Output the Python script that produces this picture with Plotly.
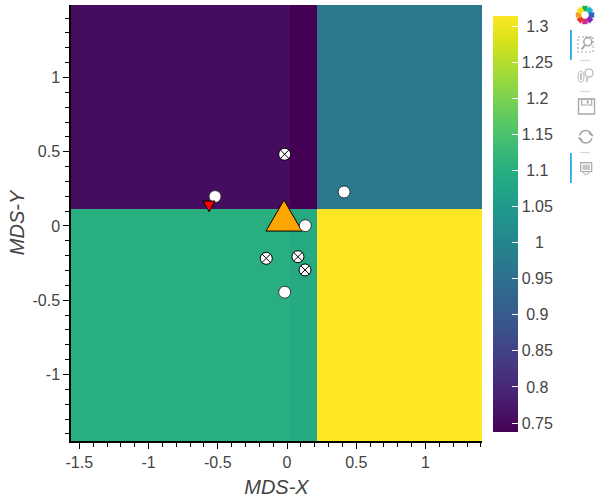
import math
import plotly.graph_objects as go

# ---- data ----
x_edges = [-1.56, 0.02, 0.217, 1.408]
y_edges = [-1.448, 0.115, 1.488]
z_values = [[1.10, 1.09, 1.32],
            [0.755, 0.738, 0.97]]
cross_x = [-0.017, -0.15, 0.079, 0.13]
cross_y = [0.483, -0.218, -0.207, -0.296]
circle_x = [-0.52, 0.412, 0.132, -0.017]
circle_y = [0.198, 0.229, 0.002, -0.446]
down_x = -0.563
down_y = 0.132
big_x = -0.022
big_y = 0.07
x_ticks = [-1.5, -1, -0.5, 0, 0.5, 1]
x_labels = ["-1.5", "-1", "-0.5", "0", "0.5", "1"]
y_ticks = [-1, -0.5, 0, 0.5, 1]
y_labels = ["-1", "-0.5", "0", "0.5", "1"]
cb_ticks = [0.75, 0.8, 0.85, 0.9, 0.95, 1, 1.05, 1.1, 1.15, 1.2, 1.25, 1.3]
cb_labels = ["0.75", "\u00a00.8", "0.85", "\u00a00.9", "0.95", "\u00a0\u00a0\u00a01",
             "1.05", "\u00a01.1", "1.15", "\u00a01.2", "1.25", "\u00a01.3"]
viridis = ["#440154", "#481567", "#482677", "#453781", "#404788", "#39568C", "#33638D",
           "#2D708E", "#287D8E", "#238A8D", "#1F968B", "#20A387", "#29AF7F", "#3CBB75",
           "#55C667", "#73D055", "#95D840", "#B8DE29", "#DCE319", "#FDE725"]

W, H = 600, 500
L, R, T, B = 71, 118, 5, 59
PW, PH = W - L - R, H - T - B
xrange_ = [-1.56, 1.408]
yrange_ = [-1.448, 1.488]


def px(x):
    return (x - L) / PW


def py(y):
    return 1 - (y - T) / PH


TEXT = "#444444"
FONT = "Liberation Sans, Arial, Helvetica, sans-serif"
GREY = "#a8a8a8"
PALE = "#c4c4c4"

# marker sizes in pixels, converted through the axis scale
ux = (xrange_[1] - xrange_[0]) / PW
uy = (yrange_[1] - yrange_[0]) / PH
dx, dy = 18 * ux, 15.5 * uy
sx, sy = 6 * ux, 5.3 * uy

fig = go.Figure()
fig.add_trace(go.Heatmap(
    x=x_edges, y=y_edges, z=z_values, zmin=0.7376, zmax=1.314,
    colorscale=[[i / (len(viridis) - 1), c] for i, c in enumerate(viridis)], hoverinfo="skip",
    colorbar=dict(
        thicknessmode="pixels", thickness=25, lenmode="pixels", len=416,
        x=px(493), xanchor="left", y=py(432), yanchor="bottom",
        tickmode="array", tickvals=cb_ticks, ticktext=cb_labels,
        ticks="inside", ticklen=6, tickcolor="white", tickwidth=1,
        outlinewidth=0, borderwidth=0, xpad=0, ypad=0,
        tickfont=dict(size=16, color=TEXT, family=FONT),
    ),
))
fig.add_trace(go.Scatter(
    x=[big_x - dx, big_x + dx, big_x, big_x - dx],
    y=[big_y - dy, big_y - dy, big_y + dy, big_y - dy],
    mode="lines", fill="toself", fillcolor="#FFA500",
    line=dict(color="black", width=1), hoverinfo="skip",
))
fig.add_trace(go.Scatter(
    x=circle_x, y=circle_y, mode="markers",
    marker=dict(symbol="circle", size=12, color="white", line=dict(color="#333333", width=1)),
))
fig.add_trace(go.Scatter(
    x=cross_x, y=cross_y, mode="markers",
    marker=dict(symbol="circle-x", size=12, color="white", line=dict(color="black", width=1)),
))
fig.add_trace(go.Scatter(
    x=[down_x - sx, down_x + sx, down_x, down_x - sx],
    y=[down_y + sy, down_y + sy, down_y - sy, down_y + sy],
    mode="lines", fill="toself", fillcolor="#FF0000",
    line=dict(color="black", width=1), hoverinfo="skip",
))

shapes = []


def seg(x0, y0, x1, y1, color=GREY, width=1.2, dash=None):
    line = dict(color=color, width=width)
    if dash:
        line["dash"] = dash
    shapes.append(dict(type="line", xref="paper", yref="paper", x0=px(x0), y0=py(y0),
                       x1=px(x1), y1=py(y1), line=line, layer="above"))


def rect(x0, y0, x1, y1, color=GREY, width=1.2, fill=None, dash=None):
    line = dict(color=color, width=width)
    if dash:
        line["dash"] = dash
    shapes.append(dict(type="rect", xref="paper", yref="paper", x0=px(x0), y0=py(y0),
                       x1=px(x1), y1=py(y1), line=line, fillcolor=fill, layer="above"))


def oval(x0, y0, x1, y1, color=GREY, width=1.2, fill=None):
    shapes.append(dict(type="circle", xref="paper", yref="paper", x0=px(x0), y0=py(y0),
                       x1=px(x1), y1=py(y1), line=dict(color=color, width=width),
                       fillcolor=fill, layer="above"))


# logo ring
logo = ["#1DB24B", "#1FB6C9", "#2D62C8", "#7A2DB8", "#D12A9A", "#E8392C", "#F59B1E", "#F7E01B"]
for i, c in enumerate(logo):
    a0 = math.radians(-112.5 + i * 45)
    a1 = math.radians(-67.5 + i * 45)
    seg(585 + 7 * math.cos(a0), 15 + 7 * math.sin(a0),
        585 + 7 * math.cos(a1), 15 + 7 * math.sin(a1), color=c, width=5.5)

# active tool bars
rect(570, 30, 571.8, 60, color="#26AAE1", width=0, fill="#26AAE1")
rect(570, 153, 571.8, 183, color="#26AAE1", width=0, fill="#26AAE1")
# box zoom
rect(578, 37, 593, 52, dash="2px,2px")
rect(584, 37.8, 593.6, 47, color="white", width=0, fill="white")
seg(585, 37, 593, 37, dash="2px,2px")
seg(593, 37, 593, 46, dash="2px,2px")
oval(583.8, 37.8, 591.8, 45.8, width=1.6, fill="white")
seg(585, 45, 581.5, 49.5, width=2)
seg(580, 60.5, 590, 60.5, color="#d8d8d8")
# wheel zoom
oval(578, 71, 584, 82, color=PALE)
seg(581, 73, 581, 80, color=PALE, width=2)
oval(585, 69, 593, 77, color=PALE, width=1.6, fill="white")
seg(587.5, 77, 586.5, 82, color=PALE, width=1.8)
seg(580, 91.5, 590, 91.5, color="#d8d8d8")
# save
rect(578.5, 99, 594.5, 114, width=1.4)
rect(581.7, 99, 591.7, 105, width=1.2)
rect(586.7, 100.5, 588.7, 103.5, fill=GREY, width=0)
# reset
oval(579.5, 130.5, 592, 143, width=1.6)
rect(578, 135.5, 594, 138, color="white", width=0, fill="white")
seg(589, 133, 593, 136, width=1.6)
seg(582.5, 140.5, 578.5, 137.5, width=1.6)
seg(580, 152.5, 590, 152.5, color="#d8d8d8")
# hover
rect(580.7, 162.7, 591.7, 171.5, color=GREY)
rect(582.5, 164.5, 590, 170, fill="#c8c8c8", color="#c8c8c8", width=0)
seg(582, 171.5, 586, 175, color=PALE)
seg(586, 175, 590, 171.5, color=PALE)

common = dict(
    ticks="outside", ticklen=6, tickwidth=1, tickcolor="black",
    showline=True, linecolor="black", linewidth=1.5, showgrid=False, zeroline=False,
    tickfont=dict(size=16, color=TEXT),
    minor=dict(dtick=0.1, tick0=0, ticks="outside", ticklen=4, tickcolor="black", tickwidth=1, showgrid=False),
)
fig.update_layout(
    width=W, height=H, autosize=False,
    margin=dict(l=L, r=R, t=T, b=B, pad=0),
    paper_bgcolor="white", plot_bgcolor="white", showlegend=False,
    font=dict(family=FONT, color=TEXT),
    shapes=shapes,
    xaxis=dict(range=xrange_, tickmode="array", tickvals=x_ticks, ticktext=x_labels,
               title=dict(text="<i>MDS-X</i>", font=dict(size=20, color=TEXT), standoff=10), **common),
    yaxis=dict(range=yrange_, tickmode="array", tickvals=y_ticks, ticktext=y_labels,
               title=dict(text="<i>MDS-Y</i>", font=dict(size=20, color=TEXT), standoff=2), **common),
)
fig.write_html("out.html", config={"displayModeBar": False},
               post_script="document.body.style.margin='0';")
